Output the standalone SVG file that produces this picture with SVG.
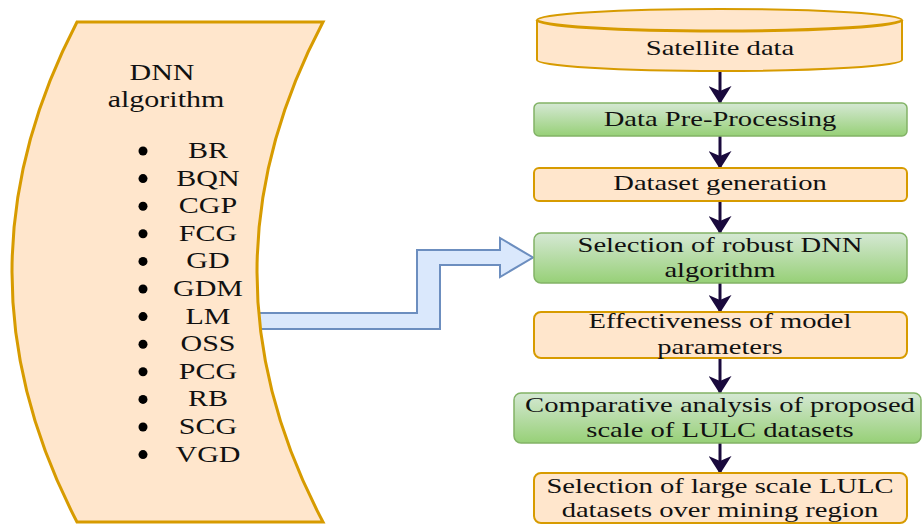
<svg xmlns="http://www.w3.org/2000/svg" width="923" height="525" viewBox="0 0 923 525">
<defs>
<linearGradient id="green" x1="0" y1="0" x2="0" y2="1">
<stop offset="0" stop-color="#d5e8d4"/>
<stop offset="1" stop-color="#97d077"/>
</linearGradient>
<marker id="ah" viewBox="0 0 18 23" refX="17" refY="11.5" markerWidth="18" markerHeight="23" markerUnits="userSpaceOnUse" orient="auto">
<path d="M0,0 L18,11.5 L0,23 L5,11.5 Z" fill="#1a0a3d"/>
</marker>
<style>
.t{font-family:"Liberation Serif","Times New Roman",serif;fill:#111;text-anchor:middle}
.r{font-size:22px}
.l{font-size:24px}
.orange{fill:#ffe6cc;stroke:#d79b00;stroke-width:2}
.green{fill:url(#green);stroke:#82b366;stroke-width:1.5}
.conn{stroke:#1a0a3d;stroke-width:3;fill:none;marker-end:url(#ah)}
</style>
</defs>
<rect width="923" height="525" fill="#ffffff"/>

<g id="connectors">
<path d="M250,313 L417,313 L417,250 L500,250 L500,238 L533,257.5 L500,277 L500,265 L440,265 L440,329 L250,329" fill="#dae8fc" stroke="#6c8ebf" stroke-width="2" stroke-linejoin="miter"/>
<line class="conn" x1="720" y1="71" x2="720" y2="103"/>
<line class="conn" x1="720" y1="136" x2="720" y2="168"/>
<line class="conn" x1="720" y1="201" x2="720" y2="233"/>
<line class="conn" x1="720" y1="283" x2="720" y2="312"/>
<line class="conn" x1="720" y1="358" x2="720" y2="393"/>
<line class="conn" x1="720" y1="443" x2="720" y2="473"/>
</g>

<g id="dnn">
<path d="M77,22 L323,22 Q191,272 323,522 L77,522 Q-53,272 77,22 Z" fill="#ffe6cc" stroke="#d79b00" stroke-width="3"/>
<text class="t l" transform="translate(162 80) scale(1.25 1)">DNN</text>
<text class="t l" transform="translate(166 107) scale(1.25 1)">algorithm</text>
<g fill="#000">
<circle cx="143" cy="151" r="4.5"/>
<circle cx="143" cy="178.6" r="4.5"/>
<circle cx="143" cy="206.2" r="4.5"/>
<circle cx="143" cy="233.8" r="4.5"/>
<circle cx="143" cy="261.4" r="4.5"/>
<circle cx="143" cy="289" r="4.5"/>
<circle cx="143" cy="316.6" r="4.5"/>
<circle cx="143" cy="344.2" r="4.5"/>
<circle cx="143" cy="371.8" r="4.5"/>
<circle cx="143" cy="399.4" r="4.5"/>
<circle cx="143" cy="427" r="4.5"/>
<circle cx="143" cy="454.6" r="4.5"/>
</g>
<text class="t l" transform="translate(208 158) scale(1.25 1)">BR</text>
<text class="t l" transform="translate(208 185.6) scale(1.25 1)">BQN</text>
<text class="t l" transform="translate(208 213.2) scale(1.25 1)">CGP</text>
<text class="t l" transform="translate(208 240.8) scale(1.25 1)">FCG</text>
<text class="t l" transform="translate(208 268.4) scale(1.25 1)">GD</text>
<text class="t l" transform="translate(208 296) scale(1.25 1)">GDM</text>
<text class="t l" transform="translate(208 323.6) scale(1.25 1)">LM</text>
<text class="t l" transform="translate(208 351.2) scale(1.25 1)">OSS</text>
<text class="t l" transform="translate(208 378.8) scale(1.25 1)">PCG</text>
<text class="t l" transform="translate(208 406.4) scale(1.25 1)">RB</text>
<text class="t l" transform="translate(208 434) scale(1.25 1)">SCG</text>
<text class="t l" transform="translate(208 461.6) scale(1.25 1)">VGD</text>
</g>

<g id="satellite">
<path d="M537,20 A182.5,11 0 0 1 902,20 L902,60 A182.5,11 0 0 1 537,60 Z" class="orange" stroke-width="3"/>
<path d="M537,20 A182.5,11 0 0 0 902,20" fill="none" stroke="#d79b00" stroke-width="3"/>
<text class="t r" transform="translate(720 55) scale(1.3 1)">Satellite data</text>
</g>

<g id="preprocessing">
<rect x="534" y="103" width="373" height="33" rx="5" class="green"/>
<text class="t r" transform="translate(720 126) scale(1.3 1)">Data Pre-Processing</text>
</g>

<g id="dataset">
<rect x="534" y="168" width="373" height="33" rx="5" class="orange"/>
<text class="t r" transform="translate(720 190) scale(1.3 1)">Dataset generation</text>
</g>

<g id="selection-dnn">
<rect x="534" y="233" width="373" height="50" rx="7" class="green"/>
<text class="t r" transform="translate(720 252) scale(1.3 1)">Selection of robust DNN</text>
<text class="t r" transform="translate(720 277) scale(1.3 1)">algorithm</text>
</g>

<g id="effectiveness">
<rect x="534" y="312" width="373" height="46" rx="7" class="orange"/>
<text class="t r" transform="translate(720 328) scale(1.3 1)">Effectiveness of model</text>
<text class="t r" transform="translate(720 354) scale(1.3 1)">parameters</text>
</g>

<g id="comparative">
<rect x="514" y="393" width="407" height="50" rx="7" class="green"/>
<text class="t r" transform="translate(720 412) scale(1.3 1)">Comparative analysis of proposed</text>
<text class="t r" transform="translate(720 437) scale(1.3 1)">scale of LULC datasets</text>
</g>

<g id="selection-lulc">
<rect x="534" y="473" width="373" height="50" rx="7" class="orange"/>
<text class="t r" transform="translate(720 493) scale(1.3 1)">Selection of large scale LULC</text>
<text class="t r" transform="translate(720 517) scale(1.3 1)">datasets over mining region</text>
</g>
</svg>
